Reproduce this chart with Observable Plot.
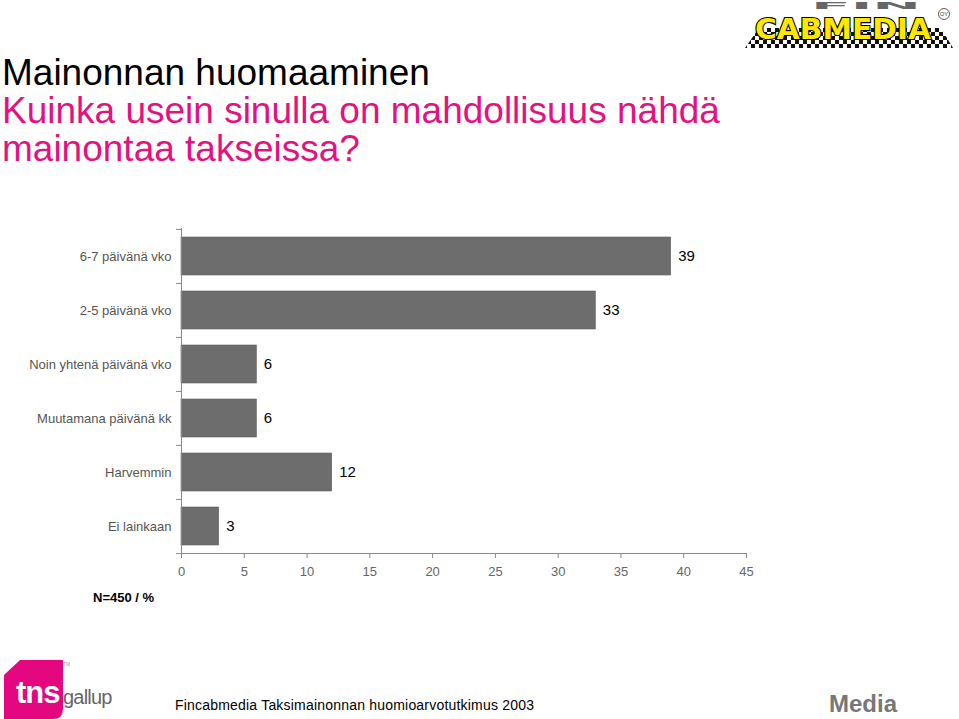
<!DOCTYPE html>
<html>
<head>
<meta charset="utf-8">
<script src="https://cdn.jsdelivr.net/npm/d3@7"></script>
<script src="https://cdn.jsdelivr.net/npm/@observablehq/plot@0.6"></script>
<style>
  html, body { margin: 0; padding: 0; background: #fff; }
  body { width: 959px; height: 719px; position: relative; overflow: hidden; font-family: "Liberation Sans", Arial, sans-serif; }
  .abs { position: absolute; white-space: nowrap; }
  #title { left: 2px; top: 54px; font-size: 37px; line-height: 38px; color: #000; }
  #subtitle { left: 2px; top: 92px; font-size: 37px; line-height: 38px; color: #e3127f; }
  #chart { left: 0; top: 200px; }
  #n { left: 93px; top: 590px; font-size: 13px; font-weight: bold; color: #000; }
  #footer { left: 175px; top: 697px; font-size: 14px; color: #000; letter-spacing: 0.2px; }
  #media { left: 829px; top: 690px; font-size: 24px; font-weight: bold; color: #777; }
</style>
</head>
<body>
<div id="title" class="abs">Mainonnan huomaaminen</div>
<div id="subtitle" class="abs">Kuinka usein sinulla on mahdollisuus nähdä<br>mainontaa takseissa?</div>
<div id="chart" class="abs"></div>
<div id="n" class="abs">N=450 / %</div>
<div id="footer" class="abs">Fincabmedia Taksimainonnan huomioarvotutkimus 2003</div>
<div id="media" class="abs">Media</div>

<!-- CabMedia logo -->
<svg class="abs" style="left:739px; top:0px" width="220" height="50" viewBox="0 0 220 50">
  <defs>
    <pattern id="chk" width="8" height="8" patternUnits="userSpaceOnUse">
      <rect width="8" height="8" fill="#fff"/>
      <rect width="4" height="4" fill="#111"/>
      <rect x="4" y="4" width="4" height="4" fill="#111"/>
    </pattern>
  </defs>
  <text x="72" y="9" font-family="DejaVu Sans" font-weight="bold" font-size="9" fill="#666" textLength="110" lengthAdjust="spacingAndGlyphs">FIN</text>
  <polygon points="6,48 214,48 202,28 20,28" fill="url(#chk)"/>
  <text x="16" y="39" font-family="DejaVu Sans" font-weight="bold" font-size="29" fill="#ffe800" stroke="#000" stroke-width="2.2" paint-order="stroke" textLength="176" lengthAdjust="spacingAndGlyphs">CABMEDIA</text>
  <circle cx="205" cy="14" r="5.5" fill="#fff" stroke="#333" stroke-width="0.8"/>
  <text x="205" y="16" text-anchor="middle" font-family="Liberation Sans" font-size="5.5" fill="#333">OY</text>
</svg>

<!-- tns gallup logo -->
<svg class="abs" style="left:0px; top:655px" width="130" height="64" viewBox="0 0 130 64">
  <path d="M4,20 L20,5 L63,5 L63,54 Q63,64 53,64 L4,64 Z" fill="#e5077f"/>
  <text x="16" y="48" font-family="Liberation Sans" font-weight="bold" font-size="31" fill="#fff" letter-spacing="-1">tns</text>
  <text x="63" y="49" font-family="Liberation Sans Narrow, Liberation Sans" font-size="20" fill="#666" letter-spacing="-0.8">gallup</text>
  <text x="63" y="11" font-family="Liberation Sans" font-size="5" fill="#999">TM</text>
</svg>

<script>
const categories = ["6-7 päivänä vko", "2-5 päivänä vko", "Noin yhtenä päivänä vko", "Muutamana päivänä kk", "Harvemmin", "Ei lainkaan"];
const values = [39, 33, 6, 6, 12, 3];
const xTicks = [0, 5, 10, 15, 20, 25, 30, 35, 40, 45];

const data = categories.map((c, i) => ({cat: c, value: values[i]}));

const W = 959, H = 400, mL = 181, mR = 213, mT = 28, mB = 47;
const step = (H - mT - mB) / categories.length;

const chart = Plot.plot({
  width: W, height: H,
  marginLeft: mL, marginRight: mR, marginTop: mT, marginBottom: mB,
  style: {fontFamily: "'Liberation Sans', Arial, sans-serif", fontSize: "13px", color: "#555", background: "transparent"},
  x: {domain: [0, 45]},
  y: {domain: categories, paddingInner: 0.3, paddingOuter: 0.15},
  marks: [
    Plot.barX(data, {x: "value", y: "cat", fill: "#6d6d6d", stroke: "#5e5e5e", strokeWidth: 0.6}),
    Plot.text(data, {x: "value", y: "cat", text: d => String(d.value), dx: 7, textAnchor: "start", fill: "#000", fontSize: 15}),
    Plot.axisY({tickSize: 0, tickPadding: 10, label: null, fill: "#555", fontSize: 13, style: "letter-spacing:0.5px"}),
    Plot.axisY({tickSize: 5, tickFormat: () => "", label: null, stroke: "#888", dy: -step / 2}),
    Plot.axisY(categories.slice(-1), {tickSize: 5, tickFormat: () => "", label: null, stroke: "#888", dy: step / 2}),
    Plot.frame({anchor: "left", stroke: "#888"}),
    Plot.frame({anchor: "bottom", stroke: "#888"}),
    Plot.axisX({ticks: xTicks, tickSize: 5, tickPadding: 8, label: null, stroke: "#888", fill: "#666", fontSize: 13})
  ]
});
document.getElementById("chart").appendChild(chart);
</script>
</body>
</html>
